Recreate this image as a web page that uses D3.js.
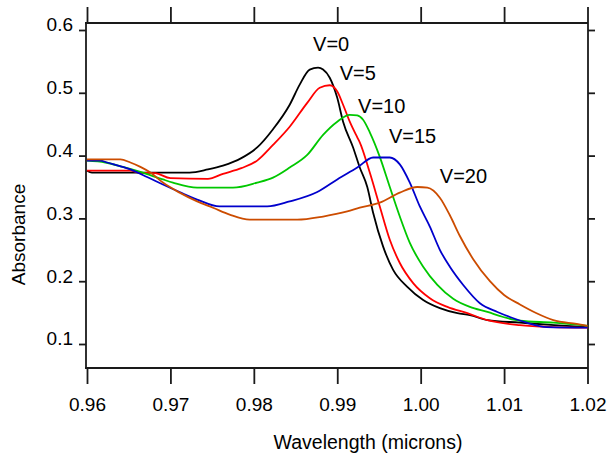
<!DOCTYPE html>
<html><head><meta charset="utf-8">
<script src="https://cdn.jsdelivr.net/npm/d3@7"></script>
<style>
html,body{margin:0;padding:0;background:#fff;}
text{font-family:"Liberation Sans",Arial,sans-serif;fill:#000;}
</style></head>
<body><svg id="c" width="616" height="456"></svg>
<script>
// ---- data (wavelength in microns, absorbance) ----
const xTicks = [0.96, 0.97, 0.98, 0.99, 1.00, 1.01, 1.02];
const xTickLabels = ["0.96", "0.97", "0.98", "0.99", "1.00", "1.01", "1.02"];
const yTicks = [0.1, 0.2, 0.3, 0.4, 0.5, 0.6];
const yTickLabels = ["0.1", "0.2", "0.3", "0.4", "0.5", "0.6"];
const seriesNames = ["V=0", "V=5", "V=10", "V=15", "V=20"];
const seriesColors = ["#000000", "#ff0000", "#00c800", "#0000cc", "#cc4c00"];

const v0 = [[0.9600,0.376],[0.9606,0.373],[0.9723,0.373],[0.9745,0.378],[0.9763,0.384],[0.9785,0.396],[0.9804,0.413],[0.9823,0.442],[0.9843,0.481],[0.9855,0.513],[0.9867,0.537],[0.9877,0.540],[0.9883,0.537],[0.9891,0.524],[0.9900,0.492],[0.9907,0.454],[0.9919,0.413],[0.9927,0.381],[0.9936,0.350],[0.9943,0.309],[0.9955,0.255],[0.9967,0.218],[0.9984,0.191],[1.0003,0.170],[1.0023,0.157],[1.0044,0.149],[1.0059,0.146],[1.0080,0.138],[1.0119,0.134],[1.0160,0.130],[1.0200,0.127]];
const v5 = [[0.9600,0.376],[0.9652,0.376],[0.9662,0.373],[0.9682,0.372],[0.9700,0.364],[0.9745,0.363],[0.9763,0.371],[0.9785,0.380],[0.9804,0.392],[0.9823,0.417],[0.9843,0.446],[0.9864,0.484],[0.9879,0.508],[0.9891,0.512],[0.9900,0.502],[0.9907,0.481],[0.9915,0.454],[0.9924,0.429],[0.9927,0.421],[0.9939,0.373],[0.9951,0.319],[0.9963,0.266],[0.9975,0.229],[0.9991,0.197],[1.0011,0.173],[1.0032,0.159],[1.0056,0.149],[1.0080,0.138],[1.0119,0.130],[1.0159,0.127],[1.0200,0.126]];
const v10 = [[0.9600,0.392],[0.9622,0.389],[0.9643,0.382],[0.9664,0.374],[0.9691,0.362],[0.9703,0.357],[0.9732,0.349],[0.9775,0.349],[0.9804,0.357],[0.9823,0.365],[0.9843,0.381],[0.9864,0.401],[0.9883,0.433],[0.9900,0.454],[0.9915,0.465],[0.9924,0.464],[0.9931,0.457],[0.9939,0.437],[0.9951,0.398],[0.9963,0.350],[0.9975,0.303],[0.9987,0.261],[1.0003,0.223],[1.0020,0.194],[1.0039,0.172],[1.0059,0.159],[1.0080,0.151],[1.0099,0.143],[1.0119,0.137],[1.0159,0.134],[1.0200,0.129]];
const v15 = [[0.9600,0.392],[0.9616,0.392],[0.9624,0.389],[0.9652,0.378],[0.9672,0.366],[0.9691,0.354],[0.9711,0.342],[0.9732,0.330],[0.9759,0.319],[0.9816,0.319],[0.9843,0.327],[0.9876,0.342],[0.9900,0.362],[0.9924,0.381],[0.9943,0.397],[0.9963,0.397],[0.9975,0.386],[0.9987,0.357],[0.9999,0.319],[1.0011,0.287],[1.0023,0.250],[1.0035,0.223],[1.0051,0.194],[1.0071,0.165],[1.0092,0.151],[1.0107,0.143],[1.0127,0.134],[1.0151,0.127],[1.0200,0.126]];
const v20 = [[0.9600,0.394],[0.9640,0.394],[0.9652,0.389],[0.9664,0.382],[0.9676,0.373],[0.9691,0.357],[0.9711,0.341],[0.9732,0.327],[0.9751,0.317],[0.9771,0.306],[0.9795,0.298],[0.9852,0.298],[0.9883,0.303],[0.9912,0.311],[0.9927,0.317],[0.9951,0.325],[0.9975,0.341],[0.9996,0.350],[1.0008,0.349],[1.0023,0.333],[1.0035,0.305],[1.0047,0.272],[1.0063,0.235],[1.0083,0.200],[1.0100,0.178],[1.0119,0.163],[1.0139,0.149],[1.0159,0.138],[1.0187,0.132],[1.0200,0.129]];
const seriesData = [v0, v5, v10, v15, v20];
// label anchor points (data coords) for series names
const labelX = [0.9871, 0.9903, 0.9925, 0.9962, 1.0023];
const labelY = [0.5673, 0.5211, 0.4684, 0.4206, 0.3568];

// ---- layout ----
const svg = d3.select("#c");
const x = d3.scaleLinear().domain([0.96, 1.02]).range([87, 587.5]);
const y = d3.scaleLinear().domain([0.1, 0.6]).range([344, 30]);
const frame = {left: 86, right: 588, top: 23, bottom: 368};

svg.append("defs").append("clipPath").attr("id","clip")
  .append("rect").attr("x",frame.left).attr("y",frame.top)
  .attr("width",frame.right-frame.left).attr("height",frame.bottom-frame.top);

// frame
const fr = svg.append("g").attr("stroke","#1a1a1a").attr("stroke-width",1.8).attr("fill","none");
fr.append("line").attr("x1",frame.left).attr("x2",frame.left).attr("y1",frame.top+1).attr("y2",frame.bottom);
fr.append("line").attr("x1",frame.left-1).attr("x2",frame.right).attr("y1",frame.bottom).attr("y2",frame.bottom);
fr.append("line").attr("x1",frame.left-1).attr("x2",frame.right).attr("y1",frame.top).attr("y2",frame.top);
fr.append("line").attr("x1",frame.right).attr("x2",frame.right).attr("y1",frame.top).attr("y2",frame.bottom);

// bottom axis
const xAxis = d3.axisBottom(x).tickValues(xTicks).tickFormat((d,i)=>xTickLabels[i]).tickSize(16).tickSizeOuter(0).tickPadding(14);
const gx = svg.append("g").attr("transform",`translate(0,${frame.bottom})`).call(xAxis);
gx.select(".domain").remove();
gx.selectAll(".tick line").attr("stroke","#1a1a1a").attr("stroke-width",1.8);
gx.selectAll("text").attr("font-size",19).attr("font-family","Liberation Sans, Arial, sans-serif").attr("fill","#000");

// top ticks
const xTop = d3.axisTop(x).tickValues(xTicks).tickFormat("").tickSize(16).tickSizeOuter(0);
const gt = svg.append("g").attr("transform",`translate(0,${frame.top})`).call(xTop);
gt.select(".domain").remove();
gt.selectAll(".tick line").attr("stroke","#1a1a1a").attr("stroke-width",1.8);

// left axis
const yAxis = d3.axisLeft(y).tickValues(yTicks).tickFormat((d,i)=>yTickLabels[i]).tickSize(7).tickSizeOuter(0).tickPadding(6);
const gy = svg.append("g").attr("transform",`translate(${frame.left},0)`).call(yAxis);
gy.select(".domain").remove();
gy.selectAll(".tick line").attr("stroke","#1a1a1a").attr("stroke-width",1.8);
gy.selectAll("text").attr("font-size",19).attr("dy","0.05em").attr("font-family","Liberation Sans, Arial, sans-serif").attr("fill","#000");

// right ticks
const yRight = d3.axisRight(y).tickValues(yTicks).tickFormat("").tickSize(7).tickSizeOuter(0);
const gr = svg.append("g").attr("transform",`translate(${frame.right},0)`).call(yRight);
gr.select(".domain").remove();
gr.selectAll(".tick line").attr("stroke","#1a1a1a").attr("stroke-width",1.8);

// axis titles
svg.append("text").attr("x",368).attr("y",449).attr("text-anchor","middle")
  .attr("font-size",19.5).text("Wavelength (microns)");
svg.append("text").attr("transform","translate(25,234.5) rotate(-90)").attr("text-anchor","middle")
  .attr("font-size",19).text("Absorbance");

// curves
const line = d3.line().x(d=>x(d[0])).y(d=>y(d[1])).curve(d3.curveMonotoneX);
const gl = svg.append("g").attr("clip-path","url(#clip)");
seriesData.forEach((s,i)=>{
  gl.append("path").datum(s).attr("d",line).attr("fill","none")
    .attr("stroke",seriesColors[i]).attr("stroke-width",1.8).attr("stroke-linejoin","round");
});

// series labels
seriesNames.forEach((n,i)=>{
  svg.append("text").attr("x",x(labelX[i])).attr("y",y(labelY[i]))
    .attr("font-size",20).text(n);
});
</script>
</body></html>
